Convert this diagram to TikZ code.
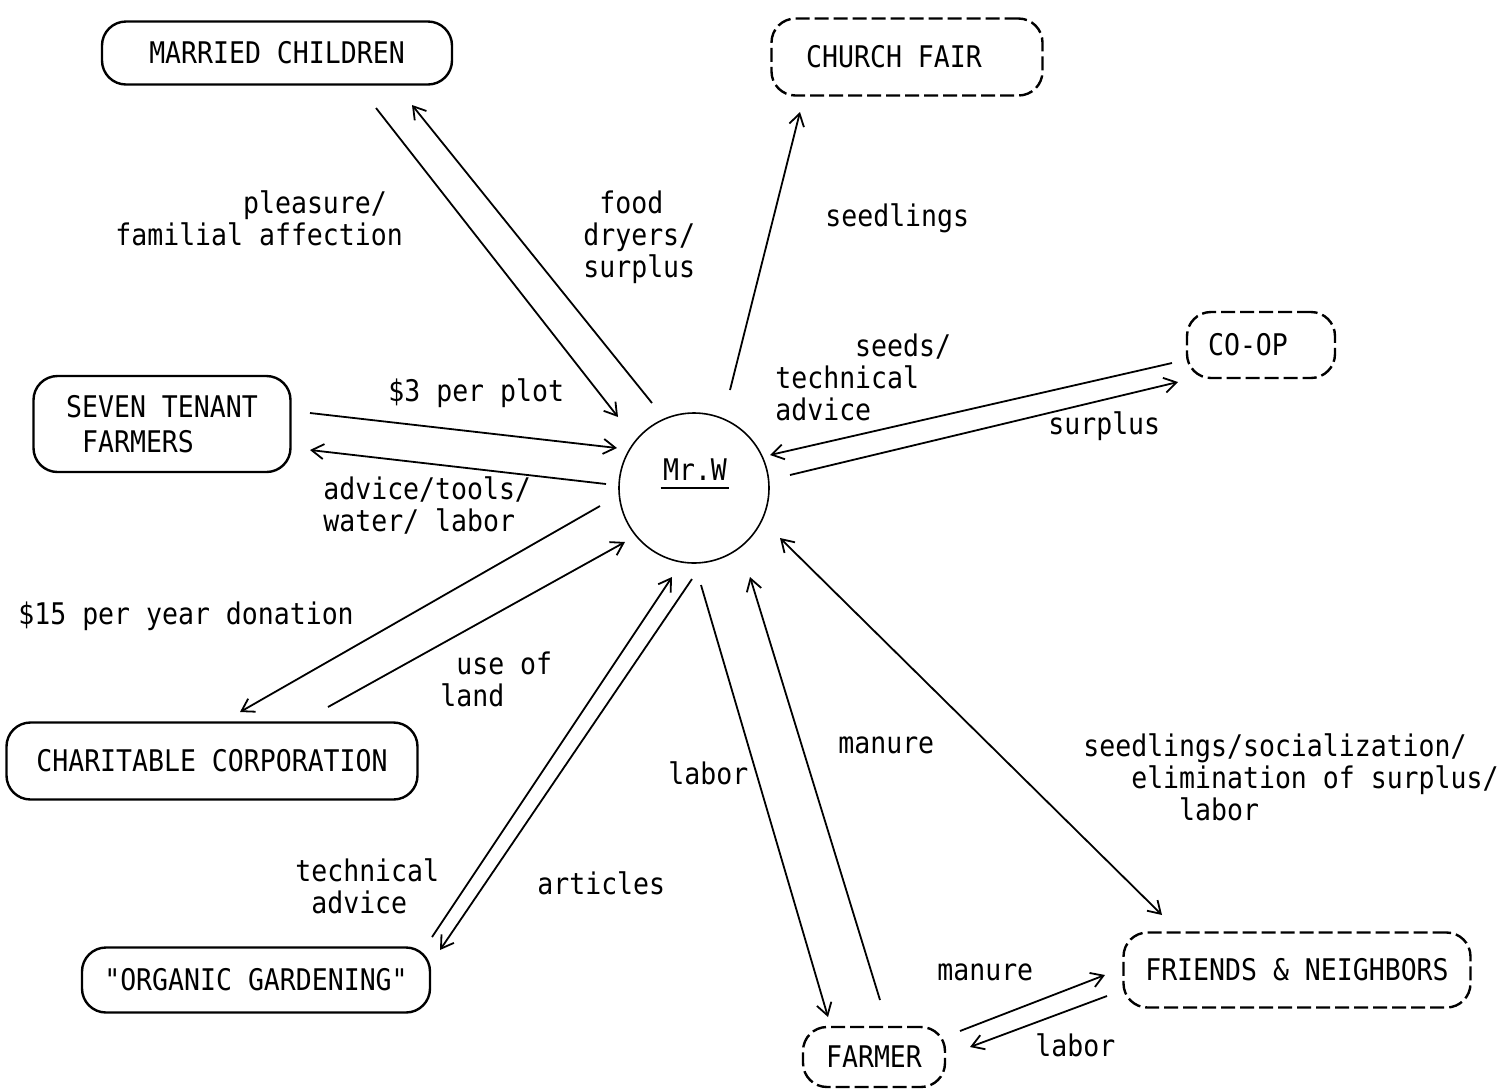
\documentclass[tikz,border=0pt]{standalone}
\usepackage{fontspec}
\newfontfamily\tw[FakeStretch=0.89,Ligatures=TeXOff]{DejaVu Sans Mono}
\usetikzlibrary{arrows.meta,calc}
\begin{document}
\begin{tikzpicture}[x=0.5pt,y=-0.5pt,
  txt/.style={font={\tw\fontsize{14.9pt}{16pt}\selectfont}},
  box/.style={txt, draw, line width=1.2pt, rounded corners=12pt, inner sep=0pt, align=center},
  dbox/.style={box, dash pattern=on 7pt off 2.5pt},
  lbl/.style={txt, inner sep=0pt, align=left},
  arr/.style={line width=0.9pt, -{Straight Barb[length=6pt,width=7.5pt]}},
  arrb/.style={line width=0.9pt, {Straight Barb[length=6pt,width=7.5pt]}-{Straight Barb[length=6pt,width=7.5pt]}}]
\useasboundingbox (0,0) rectangle (1501,1089);

% entities
\node[box, minimum width=175pt, minimum height=31.5pt] (mc) at (277,53) {MARRIED CHILDREN};
\node[dbox, minimum width=135.5pt, minimum height=38.5pt] (cf) at (907,57) {CHURCH FAIR\hspace*{13pt}};
\node[dbox, minimum width=74pt, minimum height=33pt] (coop) at (1261,345) {CO-OP\hspace*{13pt}};
\node[box, minimum width=128.5pt, minimum height=48pt, align=left] (stf) at (162,424) {SEVEN TENANT\\[1.5pt]\hphantom{F}FARMERS};
\node[box, minimum width=205.5pt, minimum height=38.5pt] (cc) at (212,761) {CHARITABLE CORPORATION};
\node[box, minimum width=174pt, minimum height=32.5pt] (og) at (256,980) {"ORGANIC GARDENING"};
\node[dbox, minimum width=71pt, minimum height=30pt] (farmer) at (874,1057) {FARMER};
\node[dbox, minimum width=173.5pt, minimum height=37.5pt] (fn) at (1297,970) {FRIENDS \& NEIGHBORS};
\node[draw, circle, line width=0.8pt, minimum size=75pt, inner sep=0pt] (w) at (694,488) {};
\node[lbl, anchor=base] (wl) at (695,480) {Mr.W};
\draw[line width=0.9pt] ($(wl.base west)+(-2,8)$) -- ($(wl.base east)+(2,8)$);

% connectors
\draw[arr] ($(mc.center)+(99,55)$) -- ($(w.center)+(-76,-71)$);
\draw[arr] ($(w.center)+(-42,-85)$) -- ($(mc.center)+(135,52)$);
\draw[arr] ($(w.center)+(36,-98)$) -- ($(cf.center)+(-107,55)$);
\draw[arr] ($(stf.center)+(148,-11)$) -- ($(w.center)+(-77,-40)$);
\draw[arr] ($(w.center)+(-88,-4)$) -- ($(stf.center)+(148,26)$);
\draw[arr] ($(w.center)+(-94,18)$) -- ($(cc.center)+(28,-49)$);
\draw[arr] ($(cc.center)+(116,-54)$) -- ($(w.center)+(-69,54)$);
\draw[arr] ($(og.center)+(176,-43)$) -- ($(w.center)+(-22,89)$);
\draw[arr] ($(w.center)+(-2,91)$) -- ($(og.center)+(184,-30)$);
\draw[arr] ($(w.center)+(7,97)$) -- ($(farmer.center)+(-46,-40)$);
\draw[arr] ($(farmer.center)+(6,-57)$) -- ($(w.center)+(56,89)$);
\draw[arrb] ($(w.center)+(86,50)$) -- ($(fn.center)+(-135,-55)$);
\draw[arr] ($(coop.center)+(-89,18)$) -- ($(w.center)+(76,-33)$);
\draw[arr] ($(w.center)+(96,-13)$) -- ($(coop.center)+(-83,37)$);
\draw[arr] ($(farmer.center)+(86,-26)$) -- ($(fn.center)+(-192,5)$);
\draw[arr] ($(fn.center)+(-190,26)$) -- ($(farmer.center)+(96,-10)$);

% labels
\node[lbl, anchor=north west] (l1) at (115,190) {\hphantom{xxxxxxxx}pleasure/\\familial affection};
\node[lbl, anchor=north west] (l2) at (583,190) {\hphantom{x}food\\dryers/\\surplus};
\node[lbl, anchor=base west] (l3) at (825,226) {seedlings};
\node[lbl, anchor=base west] (l4) at (388,401) {\$3 per plot};
\node[lbl, anchor=north west] (l5) at (323,476) {advice/tools/\\water/ labor};
\node[lbl, anchor=base west] (l6) at (18,624) {\$15 per year donation};
\node[lbl, anchor=north west] (l7) at (440,651) {\hphantom{x}use of\\land};
\node[lbl, anchor=north west] (l8) at (295,858) {technical\\\hphantom{x}advice};
\node[lbl, anchor=base west] (l9) at (537,894) {articles};
\node[lbl, anchor=base west] (l10) at (668,784) {labor};
\node[lbl, anchor=base west] (l11) at (838,753) {manure};
\node[lbl, anchor=north west] (l12) at (1083,733) {seedlings/socialization/\\\hphantom{xxx}elimination of surplus/\\\hphantom{xxxxxx}labor};
\node[lbl, anchor=north west] (l13) at (775,333) {\hphantom{xxxxx}seeds/\\technical\\advice};
\node[lbl, anchor=base west] (l14) at (1048,434) {surplus};
\node[lbl, anchor=base west] (l15) at (937,980) {manure};
\node[lbl, anchor=base west] (l16) at (1035,1056) {labor};
\end{tikzpicture}
\end{document}
